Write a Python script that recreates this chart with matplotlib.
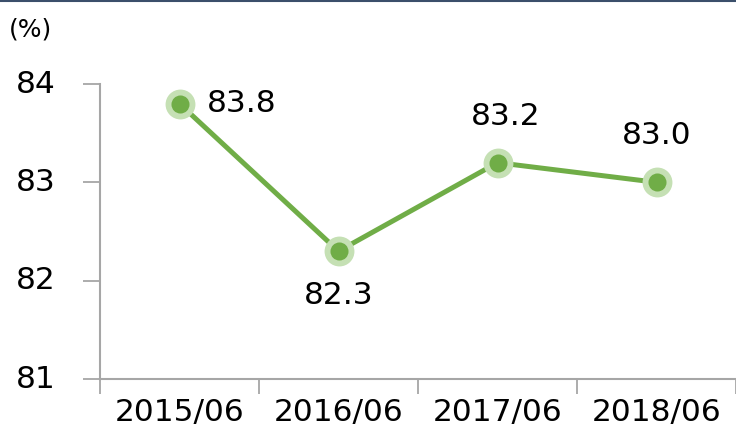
import matplotlib.pyplot as plt
from matplotlib.lines import Line2D

# data
periods = ['2015/06', '2016/06', '2017/06', '2018/06']
ratio = [83.8, 82.3, 83.2, 83.0]
label_text = ['83.8', '82.3', '83.2', '83.0']
y_ticks = [81, 82, 83, 84]

LINE_GREEN = '#70ad47'
RING_GREEN = '#c5e0b4'
AXIS_GRAY = '#a6a6a6'

fig = plt.figure(figsize=(7.36, 4.28), dpi=100)
ax = fig.add_axes([100 / 736, (428 - 379) / 428, 636 / 736, 295 / 428])

x = list(range(len(periods)))
ax.plot(x, ratio, color=LINE_GREEN, linewidth=3.6, zorder=2)
ax.plot(x, ratio, linestyle='none', marker='o', markersize=21.5,
        markerfacecolor=RING_GREEN, markeredgewidth=0, zorder=3)
ax.plot(x, ratio, linestyle='none', marker='o', markersize=13,
        markerfacecolor=LINE_GREEN, markeredgewidth=0, zorder=4)

# label offsets in points (right, below, above, above)
offsets = [(20, 0, 'left', 'center'), (0, -32, 'center', 'center'),
           (6, 33, 'center', 'center'), (0, 34, 'center', 'center')]
for xi, yi, txt, (dx, dy, ha, va) in zip(x, ratio, label_text, offsets):
    ax.annotate(txt, xy=(xi, yi), xytext=(dx, dy), textcoords='offset points',
                ha=ha, va=va, fontsize=22.5, color='black')

ax.set_xlim(-0.5, len(periods) - 0.5)
ax.set_ylim(81, 84)
ax.set_yticks(y_ticks)
ax.set_yticklabels([str(v) for v in y_ticks], va='center')

# category boundary ticks on x axis
ax.set_xticks([i - 0.5 for i in range(len(periods) + 1)])
ax.set_xticklabels([])
ax.set_xticks(x, minor=True)
ax.set_xticklabels(periods, minor=True)
ax.tick_params(axis='x', which='minor', length=0, pad=14, labelsize=22.5)
ax.tick_params(axis='x', which='major', length=11, width=1.3, color=AXIS_GRAY)
ax.tick_params(axis='y', length=12, width=1.3, color=AXIS_GRAY, pad=20, labelsize=22.5)

for side in ['top', 'right']:
    ax.spines[side].set_visible(False)
for side in ['left', 'bottom']:
    ax.spines[side].set_color(AXIS_GRAY)
    ax.spines[side].set_linewidth(1.5)

fig.text(9 / 736, 1 - 29 / 428, '(%)', fontsize=18, ha='left', va='center')

# dark rule along the top edge
fig.add_artist(Line2D([0, 1], [0.998, 0.998], transform=fig.transFigure,
                      color='#3b4f6b', linewidth=1.5))

fig.savefig('out.png', dpi=100)
